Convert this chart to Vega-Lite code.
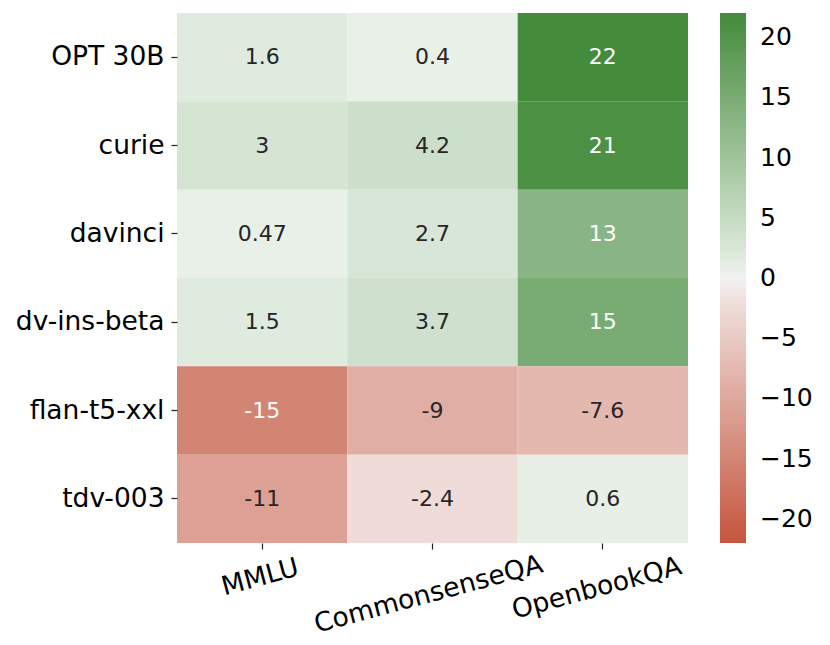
{
  "$schema": "https://vega.github.io/schema/vega-lite/v6.json",
  "autosize": "none",
  "width": 511,
  "height": 530,
  "padding": {"left": 177, "top": 13, "right": 142, "bottom": 102},
  "background": "white",
  "config": {
    "view": {"stroke": null},
    "font": "DejaVu Sans",
    "axis": {"labelFont": "DejaVu Sans", "labelColor": "black", "tickColor": "#222222", "tickWidth": 1.2, "tickSize": 6, "domain": false, "grid": false, "title": null, "labelLimit": 0}
  },
  "data": {
    "values": [
      {"model": "OPT 30B", "task": "MMLU", "value": 1.6, "label": "1.6"},
      {"model": "OPT 30B", "task": "CommonsenseQA", "value": 0.4, "label": "0.4"},
      {"model": "OPT 30B", "task": "OpenbookQA", "value": 22, "label": "22"},
      {"model": "curie", "task": "MMLU", "value": 3, "label": "3"},
      {"model": "curie", "task": "CommonsenseQA", "value": 4.2, "label": "4.2"},
      {"model": "curie", "task": "OpenbookQA", "value": 21, "label": "21"},
      {"model": "davinci", "task": "MMLU", "value": 0.47, "label": "0.47"},
      {"model": "davinci", "task": "CommonsenseQA", "value": 2.7, "label": "2.7"},
      {"model": "davinci", "task": "OpenbookQA", "value": 13, "label": "13"},
      {"model": "dv-ins-beta", "task": "MMLU", "value": 1.5, "label": "1.5"},
      {"model": "dv-ins-beta", "task": "CommonsenseQA", "value": 3.7, "label": "3.7"},
      {"model": "dv-ins-beta", "task": "OpenbookQA", "value": 15, "label": "15"},
      {"model": "flan-t5-xxl", "task": "MMLU", "value": -15, "label": "-15"},
      {"model": "flan-t5-xxl", "task": "CommonsenseQA", "value": -9, "label": "-9"},
      {"model": "flan-t5-xxl", "task": "OpenbookQA", "value": -7.6, "label": "-7.6"},
      {"model": "tdv-003", "task": "MMLU", "value": -11, "label": "-11"},
      {"model": "tdv-003", "task": "CommonsenseQA", "value": -2.4, "label": "-2.4"},
      {"model": "tdv-003", "task": "OpenbookQA", "value": 0.6, "label": "0.6"}
    ]
  },
  "encoding": {
    "x": {
      "field": "task", "type": "nominal",
      "sort": ["MMLU", "CommonsenseQA", "OpenbookQA"],
      "scale": {"paddingInner": 0, "paddingOuter": 0},
      "axis": {
        "orient": "bottom",
        "labelAngle": -15,
        "labelAlign": "center",
        "labelBaseline": "middle",
        "labelFontSize": 26.5,
        "labelPadding": {"condition": [{"test": "datum.value == 'CommonsenseQA'", "value": 45}, {"test": "datum.value == 'OpenbookQA'", "value": 39}], "value": 28},
        "labelOffset": {"condition": [{"test": "datum.value == 'CommonsenseQA'", "value": -4}, {"test": "datum.value == 'OpenbookQA'", "value": -6}], "value": -2}
      }
    },
    "y": {
      "field": "model", "type": "nominal",
      "sort": ["OPT 30B", "curie", "davinci", "dv-ins-beta", "flan-t5-xxl", "tdv-003"],
      "scale": {"paddingInner": 0, "paddingOuter": 0},
      "axis": {"labelFontSize": 26.5, "labelPadding": 7}
    }
  },
  "layer": [
    {
      "mark": {"type": "rect", "strokeWidth": 0},
      "encoding": {
        "color": {
          "field": "value", "type": "quantitative",
          "scale": {"type": "linear", "domain": [-22, -0.05, 0, 0.05, 22], "range": ["#c4553c", "#f4eceb", "#f2f2f2", "#ebf2eb", "#448b3b"], "interpolate": "rgb"},
          "legend": {
            "orient": "none", "legendX": 543, "legendY": 0,
            "direction": "vertical",
            "title": null,
            "gradientLength": 530, "gradientThickness": 26,
            "gradientStrokeWidth": 0,
            "values": [-20, -15, -10, -5, 0, 5, 10, 15, 20],
            "format": "d",
            "labelFontSize": 25, "labelFont": "DejaVu Sans", "labelColor": "black",
            "labelOffset": 14, "labelOverlap": false
          }
        }
      }
    },
    {
      "mark": {"type": "text", "fontSize": 22, "font": "DejaVu Sans", "align": "center", "baseline": "middle"},
      "encoding": {
        "text": {"field": "label", "type": "nominal"},
        "color": {"condition": {"test": "abs(datum.value) > 12", "value": "white"}, "value": "#262626"}
      }
    }
  ]
}
